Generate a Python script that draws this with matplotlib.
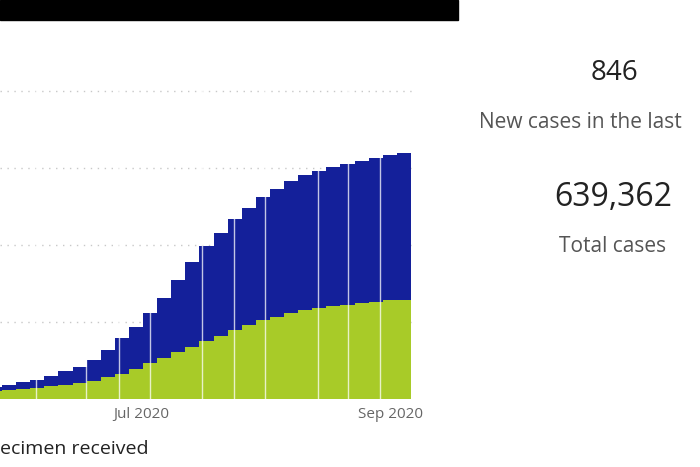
import matplotlib
matplotlib.use("Agg")
import matplotlib.pyplot as plt
import matplotlib.dates as mdates
import datetime as dt

plt.rcParams['font.family'] = ['Open Sans', 'DejaVu Sans']

start = dt.datetime(2020, 5, 24)
bin_start = [start + dt.timedelta(days=3.5*k) for k in range(30)]
total_cases = [32, 37, 44, 50, 60, 72, 84, 100, 128, 158, 188, 223, 262, 310, 356,
               398, 432, 466, 496, 524, 546, 567, 581, 593, 602, 611, 619, 626, 633, 638]
green_cases = [20, 23, 26, 29, 33, 37, 41, 47, 56, 65, 78, 94, 106, 122, 136,
               150, 164, 180, 193, 204, 214, 224, 230, 236, 241, 245, 249, 253, 256, 258]
total_cases = [v * 1000 for v in total_cases]
green_cases = [v * 1000 for v in green_cases]
blue_cases = [t - g for t, g in zip(total_cases, green_cases)]
separator_days = [8.9, 21.3, 29.5, 37.2, 50.1, 58.1, 65.8, 78.9, 86.4, 94.3]

fig = plt.figure(figsize=(7, 4.67), dpi=100)
ax = fig.add_axes([0, 68/467, 412/700, (399-60)/467])
x = mdates.date2num(bin_start)
ax.bar(x, green_cases, width=3.5, align='edge', color='#A8CB28', linewidth=0, zorder=2)
ax.bar(x, blue_cases, bottom=green_cases, width=3.5, align='edge', color='#14209A', linewidth=0, zorder=2)
x0 = mdates.date2num(dt.datetime(2020, 5, 27))
for d in separator_days:
    ax.axvline(x0 + d, color='white', alpha=0.75, linewidth=1, zorder=3)
ax.set_xlim(x0, mdates.date2num(dt.datetime(2020, 9, 6, 6)))
ax.set_ylim(0, 880e3)
ax.set_yticks([200e3, 400e3, 600e3, 800e3])
ax.yaxis.grid(True, linestyle=(0, (1, 4)), color='#c8c8c8', linewidth=1, zorder=0)
ax.set_yticklabels([])
ax.tick_params(axis='y', length=0)
ax.set_xticks(mdates.date2num([dt.datetime(2020, 7, 1), dt.datetime(2020, 9, 1)]))
ax.set_xticklabels(['Jul 2020', 'Sep 2020'], color='#666666', fontsize=11)
ax.tick_params(axis='x', length=0, pad=6)
for s in ax.spines.values():
    s.set_visible(False)

fig.patches.append(plt.Rectangle((0, 447/467), 458/700, 20/467, transform=fig.transFigure, color='black', zorder=10))

fig.text(0, 1-449/467, 'ecimen received', ha='left', va='center', fontsize=14, color='#222222')
fig.text(615/700, 1-73/467, '846', ha='center', va='center', fontsize=20, color='#222222')
fig.text(479/700, 1-123/467, 'New cases in the last', ha='left', va='center', fontsize=15, color='#555555')
fig.text(613/700, 1-198/467, '639,362', ha='center', va='center', fontsize=23, color='#222222')
fig.text(613/700, 1-246/467, 'Total cases', ha='center', va='center', fontsize=15, color='#555555')

fig.savefig('out.png', dpi=100)
